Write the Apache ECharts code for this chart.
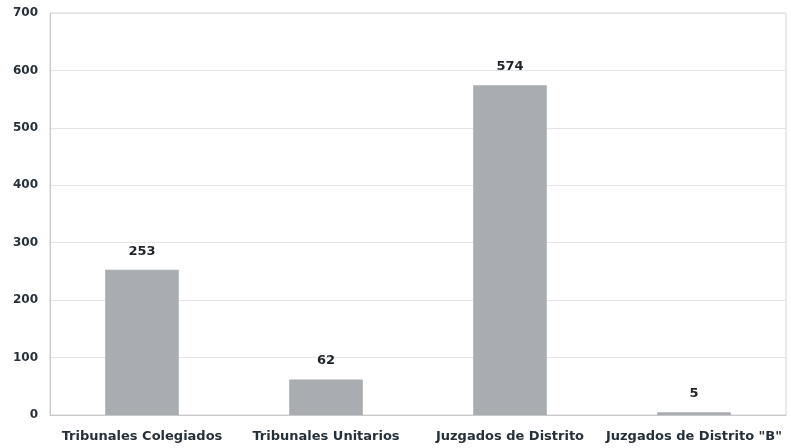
<!DOCTYPE html>
<html><head><meta charset="utf-8">
<script src="https://cdn.jsdelivr.net/npm/echarts@6/dist/echarts.min.js"></script>
<style>html,body{margin:0;padding:0;background:#fff}#c{width:791px;height:448px}</style>
</head><body><div id="c"></div>
<script>
const categories = ['Tribunales Colegiados', 'Tribunales Unitarios', 'Juzgados de Distrito', 'Juzgados de Distrito "B"'];
const values = [253, 62, 574, 5];
const yTicks = [0, 100, 200, 300, 400, 500, 600, 700];

const FONT = 'DejaVu Sans, Liberation Sans, Arial, sans-serif';
const chart = echarts.init(document.getElementById('c'), null, {renderer: 'canvas'});
chart.setOption({
  animation: false,
  backgroundColor: '#ffffff',
  grid: {left: 50, right: 5, top: 13, bottom: 33, show: true, borderColor: '#d4d4d4', borderWidth: 1},
  xAxis: {
    type: 'category', data: categories,
    axisLine: {lineStyle: {color: '#c8c8c8'}},
    axisTick: {show: false},
    axisLabel: {color: '#26303a', fontWeight: 'bold', fontSize: 13, fontFamily: FONT, margin: 15, interval: 0}
  },
  yAxis: {
    type: 'value', min: 0, max: 700, interval: 100,
    axisLine: {show: true, lineStyle: {color: '#c8c8c8'}},
    axisTick: {show: false},
    splitLine: {lineStyle: {color: '#e4e4e4'}},
    axisLabel: {color: '#26303a', fontWeight: 'bold', fontSize: 12, fontFamily: FONT, margin: 12,
      formatter: v => yTicks.includes(v) ? String(v) : ''}
  },
  series: [{
    type: 'bar', data: values, barWidth: '40%',
    itemStyle: {color: '#a9adb1'},
    label: {show: true, position: 'top', distance: 12, color: '#1f2429', fontWeight: 'bold', fontSize: 13, fontFamily: FONT}
  }]
});
</script></body></html>
